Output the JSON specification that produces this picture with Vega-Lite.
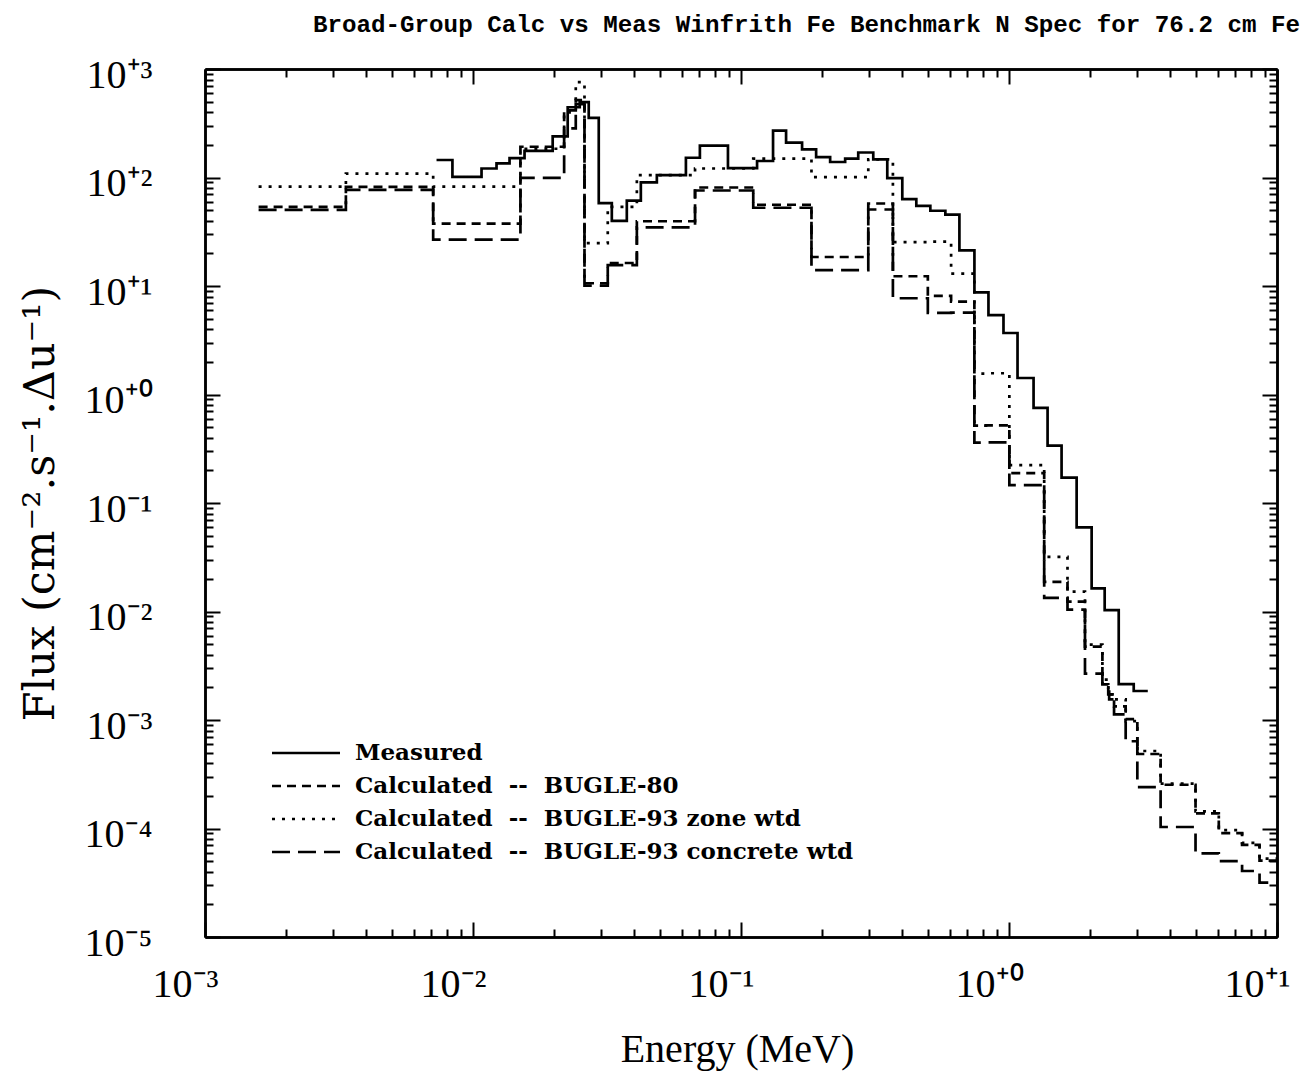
{
  "$schema": "https://vega.github.io/schema/vega-lite/v6.json",
  "autosize": {"type": "none"},
  "width": 1072,
  "height": 868,
  "padding": {"left": 205, "top": 69, "right": 34, "bottom": 135},
  "background": "white",
  "title": {
    "text": "Broad-Group Calc vs Meas Winfrith Fe Benchmark N Spec for 76.2 cm Fe",
    "anchor": "end", "frame": "group", "dx": 23, "offset": -1, "baseline": "alphabetic",
    "font": "Liberation Mono", "fontSize": 24.2, "fontWeight": "bold", "color": "black"
  },
  "datasets": {
    "spectra": [
      {"series": "Measured", "energy": 0.00731, "flux": 145},
      {"series": "Measured", "energy": 0.00838, "flux": 101.5},
      {"series": "Measured", "energy": 0.01076, "flux": 121},
      {"series": "Measured", "energy": 0.01224, "flux": 135},
      {"series": "Measured", "energy": 0.01369, "flux": 151},
      {"series": "Measured", "energy": 0.01557, "flux": 176},
      {"series": "Measured", "energy": 0.01983, "flux": 239},
      {"series": "Measured", "energy": 0.02256, "flux": 444},
      {"series": "Measured", "energy": 0.02502, "flux": 495},
      {"series": "Measured", "energy": 0.02703, "flux": 354},
      {"series": "Measured", "energy": 0.02946, "flux": 58.1},
      {"series": "Measured", "energy": 0.03296, "flux": 39.8},
      {"series": "Measured", "energy": 0.03749, "flux": 61.2},
      {"series": "Measured", "energy": 0.04229, "flux": 90.1},
      {"series": "Measured", "energy": 0.04853, "flux": 105},
      {"series": "Measured", "energy": 0.06229, "flux": 152},
      {"series": "Measured", "energy": 0.07024, "flux": 197},
      {"series": "Measured", "energy": 0.0894, "flux": 122},
      {"series": "Measured", "energy": 0.1148, "flux": 142},
      {"series": "Measured", "energy": 0.1317, "flux": 270},
      {"series": "Measured", "energy": 0.1473, "flux": 210},
      {"series": "Measured", "energy": 0.169, "flux": 182},
      {"series": "Measured", "energy": 0.1907, "flux": 154},
      {"series": "Measured", "energy": 0.2151, "flux": 139},
      {"series": "Measured", "energy": 0.2447, "flux": 149},
      {"series": "Measured", "energy": 0.2738, "flux": 170},
      {"series": "Measured", "energy": 0.3115, "flux": 147},
      {"series": "Measured", "energy": 0.3514, "flux": 98.5},
      {"series": "Measured", "energy": 0.3998, "flux": 63.2},
      {"series": "Measured", "energy": 0.451, "flux": 54.7},
      {"series": "Measured", "energy": 0.5087, "flux": 49.4},
      {"series": "Measured", "energy": 0.5788, "flux": 45.5},
      {"series": "Measured", "energy": 0.6531, "flux": 21.3},
      {"series": "Measured", "energy": 0.743, "flux": 8.74},
      {"series": "Measured", "energy": 0.8382, "flux": 5.39},
      {"series": "Measured", "energy": 0.9537, "flux": 3.69},
      {"series": "Measured", "energy": 1.076, "flux": 1.42},
      {"series": "Measured", "energy": 1.235, "flux": 0.754},
      {"series": "Measured", "energy": 1.393, "flux": 0.3375},
      {"series": "Measured", "energy": 1.571, "flux": 0.1716},
      {"series": "Measured", "energy": 1.788, "flux": 0.0595},
      {"series": "Measured", "energy": 2.034, "flux": 0.01634},
      {"series": "Measured", "energy": 2.275, "flux": 0.01028},
      {"series": "Measured", "energy": 2.567, "flux": 0.00214},
      {"series": "Measured", "energy": 2.92, "flux": 0.00185},
      {"series": "Measured", "energy": 3.295, "flux": 0.00185},

      {"series": "B80", "energy": 0.001585, "flux": 53.5},
      {"series": "B80", "energy": 0.003355, "flux": 82.0},
      {"series": "B80", "energy": 0.007102, "flux": 37.5},
      {"series": "B80", "energy": 0.01503, "flux": 192},
      {"series": "B80", "energy": 0.02188, "flux": 416},
      {"series": "B80", "energy": 0.02418, "flux": 516},
      {"series": "B80", "energy": 0.02606, "flux": 10.6},
      {"series": "B80", "energy": 0.03183, "flux": 16.3},
      {"series": "B80", "energy": 0.04087, "flux": 39.5},
      {"series": "B80", "energy": 0.06738, "flux": 80.9},
      {"series": "B80", "energy": 0.1111, "flux": 56.1},
      {"series": "B80", "energy": 0.1832, "flux": 18.5},
      {"series": "B80", "energy": 0.2985, "flux": 57.6},
      {"series": "B80", "energy": 0.3688, "flux": 12.3},
      {"series": "B80", "energy": 0.4979, "flux": 8.11},
      {"series": "B80", "energy": 0.6081, "flux": 7.18},
      {"series": "B80", "energy": 0.7427, "flux": 0.517},
      {"series": "B80", "energy": 0.8208, "flux": 0.519},
      {"series": "B80", "energy": 1.003, "flux": 0.1887},
      {"series": "B80", "energy": 1.353, "flux": 0.01874},
      {"series": "B80", "energy": 1.653, "flux": 0.01232},
      {"series": "B80", "energy": 1.921, "flux": 0.00475},
      {"series": "B80", "energy": 2.231, "flux": 0.002126},
      {"series": "B80", "energy": 2.346, "flux": 0.0020},
      {"series": "B80", "energy": 2.365, "flux": 0.00172},
      {"series": "B80", "energy": 2.466, "flux": 0.001337},
      {"series": "B80", "energy": 2.725, "flux": 0.001017},
      {"series": "B80", "energy": 3.012, "flux": 0.000486},
      {"series": "B80", "energy": 3.679, "flux": 0.000253},
      {"series": "B80", "energy": 4.966, "flux": 0.000138},
      {"series": "B80", "energy": 6.065, "flux": 0.0000907},
      {"series": "B80", "energy": 7.408, "flux": 0.0000706},
      {"series": "B80", "energy": 8.607, "flux": 0.0000505},
      {"series": "B80", "energy": 10.0, "flux": 0.0000505},

      {"series": "Zone", "energy": 0.001585, "flux": 82.3},
      {"series": "Zone", "energy": 0.003355, "flux": 108.8},
      {"series": "Zone", "energy": 0.007102, "flux": 82.3},
      {"series": "Zone", "energy": 0.01503, "flux": 184},
      {"series": "Zone", "energy": 0.02188, "flux": 399},
      {"series": "Zone", "energy": 0.02418, "flux": 756},
      {"series": "Zone", "energy": 0.02606, "flux": 24.8},
      {"series": "Zone", "energy": 0.03183, "flux": 53.6},
      {"series": "Zone", "energy": 0.04087, "flux": 105},
      {"series": "Zone", "energy": 0.06738, "flux": 121},
      {"series": "Zone", "energy": 0.1111, "flux": 149},
      {"series": "Zone", "energy": 0.1832, "flux": 101},
      {"series": "Zone", "energy": 0.2985, "flux": 147},
      {"series": "Zone", "energy": 0.3688, "flux": 25.4},
      {"series": "Zone", "energy": 0.4979, "flux": 25.6},
      {"series": "Zone", "energy": 0.6081, "flux": 13.0},
      {"series": "Zone", "energy": 0.7427, "flux": 1.56},
      {"series": "Zone", "energy": 0.8208, "flux": 1.57},
      {"series": "Zone", "energy": 1.003, "flux": 0.2237},
      {"series": "Zone", "energy": 1.353, "flux": 0.0319},
      {"series": "Zone", "energy": 1.653, "flux": 0.01523},
      {"series": "Zone", "energy": 1.921, "flux": 0.00496},
      {"series": "Zone", "energy": 2.231, "flux": 0.00236},
      {"series": "Zone", "energy": 2.346, "flux": 0.00191},
      {"series": "Zone", "energy": 2.365, "flux": 0.00172},
      {"series": "Zone", "energy": 2.466, "flux": 0.00155},
      {"series": "Zone", "energy": 2.725, "flux": 0.000975},
      {"series": "Zone", "energy": 3.012, "flux": 0.000518},
      {"series": "Zone", "energy": 3.679, "flux": 0.000259},
      {"series": "Zone", "energy": 4.966, "flux": 0.000144},
      {"series": "Zone", "energy": 6.065, "flux": 0.0000966},
      {"series": "Zone", "energy": 7.408, "flux": 0.0000737},
      {"series": "Zone", "energy": 8.607, "flux": 0.0000527},
      {"series": "Zone", "energy": 10.0, "flux": 0.0000527},

      {"series": "Concrete", "energy": 0.001585, "flux": 50.2},
      {"series": "Concrete", "energy": 0.003355, "flux": 76.9},
      {"series": "Concrete", "energy": 0.007102, "flux": 26.7},
      {"series": "Concrete", "energy": 0.01503, "flux": 99.3},
      {"series": "Concrete", "energy": 0.02188, "flux": 284},
      {"series": "Concrete", "energy": 0.02418, "flux": 474},
      {"series": "Concrete", "energy": 0.02606, "flux": 10.1},
      {"series": "Concrete", "energy": 0.03183, "flux": 15.6},
      {"series": "Concrete", "energy": 0.04087, "flux": 34.7},
      {"series": "Concrete", "energy": 0.06738, "flux": 75.9},
      {"series": "Concrete", "energy": 0.1111, "flux": 52.6},
      {"series": "Concrete", "energy": 0.1832, "flux": 14.0},
      {"series": "Concrete", "energy": 0.2985, "flux": 50.7},
      {"series": "Concrete", "energy": 0.3688, "flux": 7.71},
      {"series": "Concrete", "energy": 0.4979, "flux": 5.65},
      {"series": "Concrete", "energy": 0.6081, "flux": 5.68},
      {"series": "Concrete", "energy": 0.7427, "flux": 0.360},
      {"series": "Concrete", "energy": 0.8208, "flux": 0.362},
      {"series": "Concrete", "energy": 1.003, "flux": 0.1462},
      {"series": "Concrete", "energy": 1.353, "flux": 0.01333},
      {"series": "Concrete", "energy": 1.653, "flux": 0.01039},
      {"series": "Concrete", "energy": 1.921, "flux": 0.002677},
      {"series": "Concrete", "energy": 2.231, "flux": 0.001994},
      {"series": "Concrete", "energy": 2.346, "flux": 0.00172},
      {"series": "Concrete", "energy": 2.365, "flux": 0.001548},
      {"series": "Concrete", "energy": 2.466, "flux": 0.001128},
      {"series": "Concrete", "energy": 2.725, "flux": 0.000637},
      {"series": "Concrete", "energy": 3.012, "flux": 0.000241},
      {"series": "Concrete", "energy": 3.679, "flux": 0.0001032},
      {"series": "Concrete", "energy": 4.966, "flux": 0.0000589},
      {"series": "Concrete", "energy": 6.065, "flux": 0.0000500},
      {"series": "Concrete", "energy": 7.408, "flux": 0.0000406},
      {"series": "Concrete", "energy": 8.607, "flux": 0.0000317},
      {"series": "Concrete", "energy": 10.0, "flux": 0.0000317}
    ]
  },
  "data": {"name": "spectra"},
  "layer": [
    {
      "mark": {"type": "line", "interpolate": "step-after", "color": "black", "strokeWidth": 2.7, "strokeCap": "butt"},
      "encoding": {
        "x": {
          "field": "energy", "type": "quantitative",
          "scale": {"type": "log", "domain": [0.001, 10], "nice": false},
          "axis": {
            "orient": "bottom", "values": [0.001, 0.01, 0.1, 1, 10],
            "tickSize": -15, "tickWidth": 2, "tickColor": "black",
            "domainWidth": 2.5, "domainColor": "black", "grid": false,
            "labelFont": "Liberation Serif", "labelFontSize": 40, "labelColor": "black",
            "labelPadding": 42, "labelOffset": -20, "labelFlush": false, "labelOverlap": false,
            "labelExpr": "'10' + (datum.value < 1 ? '⁻' : '⁺') + ['⁰','¹','²','³','⁴','⁵'][round(abs(log(datum.value)/LN10))]",
            "title": "Energy (MeV)", "titleFont": "Liberation Serif", "titleFontSize": 40,
            "titleFontWeight": "normal", "titleColor": "black",
            "titleX": 532, "titleY": 124, "titleBaseline": "alphabetic", "titleAlign": "center"
          }
        },
        "y": {
          "field": "flux", "type": "quantitative",
          "scale": {"type": "log", "domain": [0.00001, 1000], "nice": false},
          "axis": {
            "orient": "left", "values": [0.00001, 0.0001, 0.001, 0.01, 0.1, 1, 10, 100, 1000],
            "tickSize": -15, "tickWidth": 2, "tickColor": "black",
            "domainWidth": 2.5, "domainColor": "black", "grid": false,
            "labelFont": "Liberation Serif", "labelFontSize": 40, "labelColor": "black",
            "labelPadding": 68, "labelOffset": 6, "labelFlush": false, "labelOverlap": false,
            "labelAlign": "right", "labelBaseline": "middle",
            "labelExpr": "'10' + (datum.value < 1 ? '⁻' : '⁺') + ['⁰','¹','²','³','⁴','⁵'][round(abs(log(datum.value)/LN10))]",
            "title": "Flux (cm⁻².s⁻¹.Δu⁻¹)", "titleFont": "DejaVu Serif", "titleFontSize": 43,
            "titleFontWeight": "normal", "titleColor": "black",
            "titleX": -152, "titleY": 434, "titleBaseline": "alphabetic", "titleAlign": "center", "titleAngle": -90
          }
        },
        "strokeDash": {
          "field": "series", "type": "nominal",
          "scale": {
            "domain": ["Measured", "B80", "Zone", "Concrete"],
            "range": [[1, 0], [9, 6], [3, 7], [18, 8]]
          },
          "legend": {
            "orient": "none", "legendX": 88, "legendY": 671, "padding": 0,
            "title": null, "symbolType": "M-3,0L3,0", "symbolSize": 514,
            "symbolStrokeWidth": 2.5, "symbolStrokeColor": "black", "symbolFillColor": "transparent",
            "labelFont": "DejaVu Serif", "labelFontWeight": "bold", "labelFontSize": 23,
            "labelColor": "black", "labelOffset": 36, "rowPadding": 8, "labelLimit": 0,
            "labelExpr": "datum.value == 'Measured' ? 'Measured' : datum.value == 'B80' ? 'Calculated\u00a0\u00a0--\u00a0\u00a0BUGLE-80' : datum.value == 'Zone' ? 'Calculated\u00a0\u00a0--\u00a0\u00a0BUGLE-93 zone wtd' : 'Calculated\u00a0\u00a0--\u00a0\u00a0BUGLE-93 concrete wtd'"
          }
        }
      }
    },
    {
      "mark": {"type": "point", "opacity": 0},
      "encoding": {
        "x": {
          "field": "energy", "type": "quantitative",
          "axis": {
            "orient": "bottom", "labels": false, "title": null, "grid": false,
            "values": [0.002,0.003,0.004,0.005,0.006,0.007,0.008,0.009,0.02,0.03,0.04,0.05,0.06,0.07,0.08,0.09,0.2,0.3,0.4,0.5,0.6,0.7,0.8,0.9,2,3,4,5,6,7,8,9],
            "tickSize": -8, "tickWidth": 2, "tickColor": "black", "domainWidth": 2.5, "domainColor": "black"
          }
        },
        "y": {
          "field": "flux", "type": "quantitative",
          "axis": {
            "orient": "left", "labels": false, "title": null, "grid": false,
            "values": [0.00002,0.00003,0.00004,0.00005,0.00006,0.00007,0.00008,0.00009,0.0002,0.0003,0.0004,0.0005,0.0006,0.0007,0.0008,0.0009,0.002,0.003,0.004,0.005,0.006,0.007,0.008,0.009,0.02,0.03,0.04,0.05,0.06,0.07,0.08,0.09,0.2,0.3,0.4,0.5,0.6,0.7,0.8,0.9,2,3,4,5,6,7,8,9,20,30,40,50,60,70,80,90,200,300,400,500,600,700,800,900],
            "tickSize": -8, "tickWidth": 2, "tickColor": "black", "domainWidth": 2.5, "domainColor": "black"
          }
        }
      }
    },
    {
      "mark": {"type": "point", "opacity": 0},
      "encoding": {
        "x": {
          "field": "energy", "type": "quantitative",
          "axis": {
            "orient": "top", "labels": false, "title": null, "grid": false,
            "values": [0.001, 0.01, 0.1, 1, 10],
            "tickSize": -15, "tickWidth": 2, "tickColor": "black", "domainWidth": 2.5, "domainColor": "black"
          }
        },
        "y": {
          "field": "flux", "type": "quantitative",
          "axis": {
            "orient": "right", "labels": false, "title": null, "grid": false,
            "values": [0.00001, 0.0001, 0.001, 0.01, 0.1, 1, 10, 100, 1000],
            "tickSize": -15, "tickWidth": 2, "tickColor": "black", "domainWidth": 2.5, "domainColor": "black"
          }
        }
      }
    },
    {
      "mark": {"type": "point", "opacity": 0},
      "encoding": {
        "x": {
          "field": "energy", "type": "quantitative",
          "axis": {
            "orient": "top", "labels": false, "title": null, "grid": false,
            "values": [0.002,0.003,0.004,0.005,0.006,0.007,0.008,0.009,0.02,0.03,0.04,0.05,0.06,0.07,0.08,0.09,0.2,0.3,0.4,0.5,0.6,0.7,0.8,0.9,2,3,4,5,6,7,8,9],
            "tickSize": -8, "tickWidth": 2, "tickColor": "black", "domainWidth": 2.5, "domainColor": "black"
          }
        },
        "y": {
          "field": "flux", "type": "quantitative",
          "axis": {
            "orient": "right", "labels": false, "title": null, "grid": false,
            "values": [0.00002,0.00003,0.00004,0.00005,0.00006,0.00007,0.00008,0.00009,0.0002,0.0003,0.0004,0.0005,0.0006,0.0007,0.0008,0.0009,0.002,0.003,0.004,0.005,0.006,0.007,0.008,0.009,0.02,0.03,0.04,0.05,0.06,0.07,0.08,0.09,0.2,0.3,0.4,0.5,0.6,0.7,0.8,0.9,2,3,4,5,6,7,8,9,20,30,40,50,60,70,80,90,200,300,400,500,600,700,800,900],
            "tickSize": -8, "tickWidth": 2, "tickColor": "black", "domainWidth": 2.5, "domainColor": "black"
          }
        }
      }
    }
  ],
  "resolve": {"axis": {"x": "independent", "y": "independent"}},
  "config": {"view": {"stroke": null}}
}
